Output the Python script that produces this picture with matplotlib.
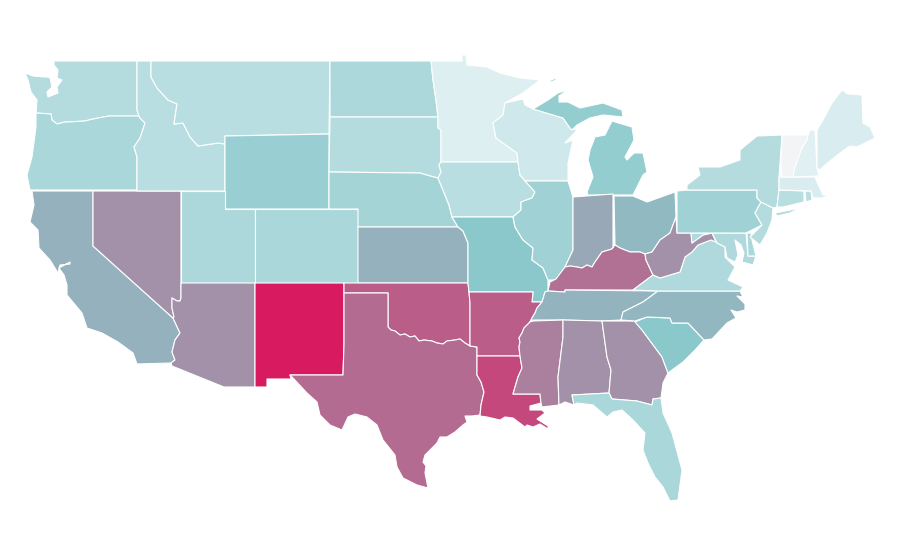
import matplotlib
matplotlib.use("Agg")
import matplotlib.pyplot as plt
from matplotlib.colors import LinearSegmentedColormap
from matplotlib.patches import Polygon

# Value per state, read from the shade of each state (colour scale 0-100)
states = ["WA","OR","CA","NV","ID","MT","WY","UT","AZ","CO","NM","ND","SD","NE","KS","OK","TX",
          "MN","IA","MO","AR","LA","WI","IL","MI","IN","OH","KY","TN","MS","AL","GA","FL","SC",
          "NC","VA","WV","MD","DE","PA","NJ","NY","CT","RI","MA","VT","NH","ME"]
values = [24,28,48,59,22,22,34,27,59,28,100,27,24,30,48,77,72,
          8,22,40,77,84,14,32,36,51,45,70,47,65,59,59,28,40,
          46,26,59,26,27,32,24,24,22,22,10,0,7,10]

# Borders shared by two states in figure pixel units
red_river = [(388,327),(391,330),(395,331),(400,335),(405,334),(410,337),(415,336),(419,341),(424,340),
             (432,341),(437,343),(443,344),(447,341),(455,340),(460,339),(465,343),(470,346)]
ohio_river_in = [(612,249),(602,252),(595,262),(592,267),(587,265),(582,268),(577,267),(570,266),(565,267)]
ohio_river_oh = [(645,254),(640,252),(630,252),(620,248),(615,245)]
miss_upper = [(542,302),(537,308),(535,313),(532,318),(530,322)]
miss_lower = [(530,322),(524,328),(522,333),(519,338),(520,342),(519,347),(520,356)]

# State outlines, in figure pixel units
outlines = {
"WA": [[(54,61),(137,61),(137,110),(139,116),(109,116),(93,119),(85,121),(68,122),(65,122),(57,124),(52,120),(51,114),(36,113),(37,100),(31,92),(28,80),(25,73),(33,76),(45,77),(48,77),(50,78),(52,87),(47,92),(48,97),(58,93),(57,87),(62,80),(57,78),(58,70),(54,65)]],
"OR": [[(36,113),(51,114),(52,120),(57,124),(65,122),(68,122),(85,121),(93,119),(109,116),(139,116),(140,118),(145,123),(140,138),(134,147),(137,157),(137,190),(30,190),(27,175),(32,157),(36,127)]],
"CA": [[(32,191),(93,191),(93,246),(173,318),(180,333),(175,340),(172,352),(175,360),(171,363),(137,364),(133,353),(118,342),(102,333),(87,328),(82,313),(67,295),(67,285),(64,275),(59,268),(70,262),(70,264),(60,265),(58,273),(50,260),(39,248),(38,230),(30,222),(34,205)]],
"NV": [[(93,191),(181,191),(181,298),(180,301),(177,301),(172,298),(172,308),(174,317),(173,318),(93,246)]],
"ID": [[(137,61),(151,61),(151,77),(157,88),(168,100),(177,104),(175,117),(174,124),(183,123),(190,137),(198,146),(218,143),(225,144),(225,191),(137,191),(137,157),(134,147),(140,138),(145,123),(140,118),(139,116),(137,110)]],
"MT": [[(151,61),(330,61),(329,134),(225,136),(225,144),(218,143),(198,146),(190,137),(183,123),(174,124),(175,117),(177,104),(168,100),(157,88),(151,77)]],
"WY": [[(225,136),(329,134),(329,209),(225,209)]],
"UT": [[(181,191),(225,191),(225,209),(255,209),(255,283),(181,283)]],
"AZ": [[(181,283),(255,283),(255,387),(224,387),(172,366),(171,363),(175,360),(172,352),(175,340),(180,333),(173,318),(174,317),(172,308),(172,298),(177,301),(180,301),(181,298)]],
"CO": [[(255,209),(358,209),(358,283),(255,283)]],
"NM": [[(255,283),(344,283),(344,344),(343,375),(290,375),(291,379),(267,379),(267,387),(255,387)]],
"ND": [[(330,61),(431,61),(433,80),(436,100),(438,117),(330,117)]],
"SD": [[(330,117),(438,117),(438,128),(441,130),(441,162),(439,165),(441,172),(438,178),(430,176),(420,173),(329,172)]],
"NE": [[(329,172),(420,173),(430,176),(438,178),(445,195),(449,205),(452,217),(458,227),(358,227),(358,209),(329,209)]],
"KS": [[(358,227),(458,227),(463,231),(468,243),(468,283),(358,283)]],
"OK": [[(344,283),(468,283),(469,292),(470,303),*red_river[::-1],(388,293),(344,293)]],
"TX": [[(344,293),(388,293),*red_river,(477,347),(477,375),(481,382),(484,392),(481,405),(480,415),(472,416),(465,416),(467,422),(463,425),(455,432),(447,437),(440,437),(437,443),(430,450),(425,455),(423,462),(426,466),(425,473),(428,488),(417,485),(403,478),(397,467),(395,455),(383,440),(377,425),(367,417),(355,414),(348,417),(342,430),(330,425),(320,415),(317,402),(307,393),(293,378),(290,375),(343,375),(344,344)]],
"MN": [[(431,61),(462,61),(462,55),(466,55),(467,65),(487,67),(500,73),(520,78),(540,80),(523,93),(505,103),(503,115),(493,123),(496,138),(517,153),(518,162),(441,162),(441,130),(438,128),(438,117),(436,100),(433,80)]],
"IA": [[(441,162),(518,162),(520,175),(535,192),(532,198),(521,202),(521,210),(513,217),(452,217),(449,205),(445,195),(438,178),(441,172),(439,165)]],
"MO": [[(452,217),(513,217),(515,227),(523,240),(533,248),(532,260),(543,268),(548,280),(548,291),(545,292),(542,302),(532,302),(533,292),(469,292),(468,283),(468,243),(463,231),(458,227)]],
"AR": [[(469,292),(533,292),(532,302),*miss_upper,*miss_lower[1:],(477,356),(477,347),(470,346),(470,303)]],
"LA": [[(477,356),(520,356),(522,368),(518,377),(513,394),(540,394),(541,403),(530,406),(530,410),(542,410),(545,413),(537,419),(548,426),(548,429),(540,424),(533,427),(527,425),(525,427),(513,418),(505,417),(500,420),(487,417),(480,416),(481,405),(484,392),(481,382),(477,375)]],
"WI": [[(505,103),(523,99),(525,105),(533,109),(563,118),(570,128),(577,130),(565,143),(573,140),(568,163),(568,181),(525,181),(520,175),(518,162),(517,153),(496,138),(493,123),(503,115)]],
"IL": [[(525,181),(568,181),(573,197),(573,250),(565,267),(557,280),(548,280),(543,268),(532,260),(533,248),(523,240),(515,227),(513,217),(521,210),(521,202),(532,198),(535,192)]],
"MI": [[(533,109),(548,100),(558,93),(568,90),(559,96),(559,102),(568,102),(580,108),(603,103),(622,110),(623,117),(603,115),(590,118),(577,125),(572,130),(570,128),(563,118)],
       [(588,195),(613,195),(633,195),(643,175),(647,172),(643,153),(634,153),(627,160),(625,157),(634,140),(632,127),(612,121),(605,135),(595,137),(590,150),(588,160),(593,177),(587,192)],
       [(549,81),(556,78),(556,80),(551,82)]],
"IN": [[(573,197),(613,194),(613,247),*ohio_river_in,(573,250)]],
"OH": [[(614,196),(633,196),(647,202),(675,192),(676,217),(670,233),(660,240),(652,252),*ohio_river_oh]],
"KY": [[(548,291),(550,282),(556,279),*ohio_river_in[::-1],*ohio_river_oh[::-1],(646,260),(653,275),(633,290),(565,290),(565,292)]],
"TN": [[(533,320),(563,320),(602,321),(621,320),(623,312),(643,302),(658,291),(565,290),(565,292),(548,291),(545,292),*miss_upper]],
"MS": [[(533,321),(563,320),(563,337),(558,377),(559,405),(542,407),(541,403),(540,394),(513,394),(518,377),(522,368),*miss_lower[::-1]]],
"AL": [[(563,320),(602,321),(607,357),(611,370),(609,393),(572,395),(574,405),(565,402),(559,405),(558,377),(563,337)]],
"GA": [[(602,321),(635,321),(642,330),(662,357),(668,373),(663,383),(661,398),(653,399),(652,405),(637,401),(612,399),(609,393),(611,370),(607,357)]],
"FL": [[(572,395),(609,393),(612,399),(637,401),(652,405),(653,399),(661,398),(663,413),(672,433),(682,470),(678,500),(670,501),(663,487),(655,477),(648,463),(643,450),(645,433),(633,420),(622,410),(613,412),(607,417),(593,405),(577,403),(574,405)]],
"SC": [[(635,322),(647,317),(670,318),(672,323),(688,323),(704,340),(695,350),(683,362),(672,370),(668,373),(662,357),(642,330)]],
"NC": [[(658,291),(740,291),(743,297),(737,296),(745,304),(745,310),(737,312),(731,310),(736,318),(727,323),(712,339),(704,340),(688,323),(672,323),(670,318),(647,317),(635,321),(621,320),(623,312),(643,302)]],
"VA": [[(633,290),(653,275),(660,278),(680,272),(685,257),(692,252),(698,245),(711,240),(716,242),(717,243),(725,247),(725,257),(735,267),(728,280),(743,287),(740,291),(658,291)]],
"WV": [[(646,260),(645,254),(652,252),(660,240),(670,233),(676,217),(677,233),(691,233),(692,243),(703,235),(712,233),(716,242),(711,240),(698,245),(692,252),(685,257),(680,272),(660,278),(653,275)]],
"MD": [[(692,243),(691,233),(746,233),(748,256),(756,256),(753,265),(742,262),(744,253),(741,245),(735,240),(738,255),(735,262),(727,258),(725,247),(717,243),(712,233),(703,235)]],
"DE": [[(747,233),(751,233),(752,240),(756,256),(748,256)]],
"PA": [[(677,191),(687,190),(757,190),(757,198),(761,202),(755,213),(762,225),(746,233),(677,233)]],
"NJ": [[(761,202),(773,208),(772,220),(767,233),(760,245),(750,237),(762,225),(755,213)]],
"NY": [[(687,190),(687,185),(700,175),(698,167),(720,167),(740,160),(740,150),(757,136),(782,135),(779,177),(779,190),(777,207),(773,208),(761,202),(757,198),(757,190)],
       [(775,213),(800,208),(790,213),(777,216)]],
"CT": [[(779,190),(804,191),(804,202),(783,207),(777,207)]],
"RI": [[(805,191),(811,191),(812,200),(806,202)]],
"MA": [[(779,177),(815,177),(817,182),(823,195),(830,195),(822,198),(813,198),(811,191),(779,190)]],
"VT": [[(782,135),(808,135),(807,140),(802,148),(795,167),(793,177),(782,177),(781,160)]],
"NH": [[(808,135),(810,130),(815,130),(817,168),(819,176),(793,177),(795,167),(802,148),(807,140)]],
"ME": [[(817,130),(823,120),(832,103),(842,90),(848,94),(862,95),(863,123),(870,127),(875,138),(857,147),(850,146),(840,153),(825,165),(820,170),(817,168)]],
}

cmap = LinearSegmentedColormap.from_list(
    "rate", [(0, "#f2f4f6"), (0.08, "#deeff2"), (0.4, "#8ac8cb"), (1, "#d81b60")])

fig = plt.figure(figsize=(9, 5.6), dpi=100)
ax = fig.add_axes([0, 0, 1, 1])
ax.set_xlim(0, 900)
ax.set_ylim(560, 0)
ax.axis("off")

for state, value in zip(states, values):
    for ring in outlines[state]:
        ax.add_patch(Polygon(ring, closed=True, facecolor=cmap(value / 100),
                             edgecolor="white", linewidth=0.8, joinstyle="round"))

fig.savefig("out.png", dpi=100)
